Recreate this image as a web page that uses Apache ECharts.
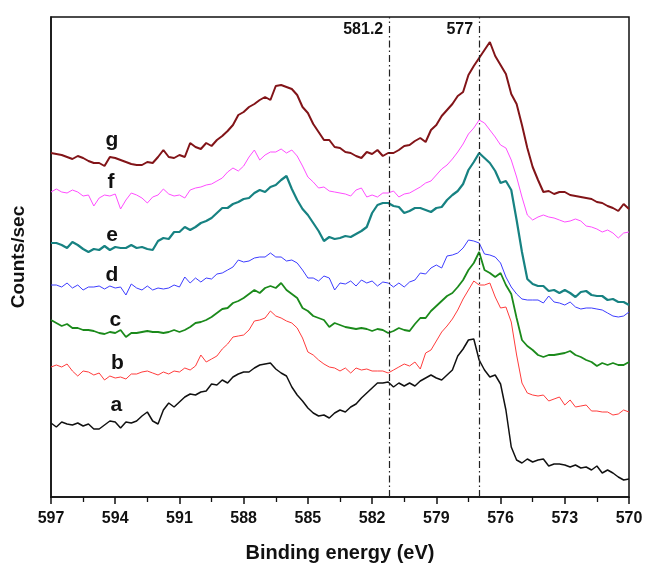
<!DOCTYPE html>
<html>
<head>
<meta charset="utf-8">
<script src="https://cdn.jsdelivr.net/npm/echarts@6/dist/echarts.min.js"></script>
<style>
  html, body { margin: 0; padding: 0; background: #fff; }
  #chart { width: 651px; height: 564px; }
</style>
</head>
<body>
<div id="chart"></div>
<script>
// binding energy grid, 597 -> 570 eV in 0.25 eV steps (109 points)
const energies = [];
for (let i = 0; i <= 108; i++) energies.push(597 - i * 0.25);

// intensities (arbitrary units, stacked offsets included)
const spectrumA = [74,70,75,73, 72,74,71,73, 68,68,72,76, 75,69,75,74, 76,81,85,76,
  73,87,94,90, 95,100,103,102, 105,106,113,112, 117,114,120,123, 125,125,129,132,
  133,134,128,124, 121,110,102,96, 89,84,81,82, 79,84,87,85, 90,93,99,104,
  109,114,114,115, 110,114,111,114, 111,116,119,122, 119,117,122,127, 141,148,157,158,
  137,127,120,122, 113,87,50,37, 34,38,35,37, 38,31,33,33, 32,30,32,29,
  30,27,31,24, 27,24,20,17, 18];
const spectrumB = [130,132,130,133, 126,121,126,125, 122,124,117,121, 119,120,118,123, 123,125,126,124,
  122,125,123,126, 125,129,127,131, 142,135,138,141, 148,153,160,161, 162,167,176,177,
  179,186,181,179, 176,174,169,159, 145,142,137,133, 130,129,126,129, 124,129,127,128,
  126,126,126,124, 127,130,133,131, 135,128,144,147, 156,165,171,178, 187,198,207,216,
  212,212,214,200, 189,190,175,142, 114,104,102,101, 102,96,98,100, 92,97,90,91,
  92,86,86,85, 85,82,83,87, 85];
const spectrumC = [177,174,171,173, 169,169,167,167, 166,164,163,165, 164,167,160,164, 164,165,166,165,
  165,164,165,167, 165,167,170,174, 175,177,180,184, 188,189,194,196, 199,203,207,204,
  209,211,209,214, 207,203,199,189, 186,181,179,177, 170,174,172,170, 169,168,169,168,
  166,168,167,164, 166,169,167,166, 173,179,179,186, 191,196,201,204, 210,217,227,234,
  245,227,224,220, 224,212,203,179, 157,151,147,142, 140,142,142,143, 144,146,142,140,
  137,135,131,134, 132,134,132,132, 135];
const spectrumD = [212,212,210,214, 209,212,207,210, 210,211,208,211, 209,210,202,213, 209,207,211,207,
  209,208,209,212, 210,220,214,219, 215,219,218,223, 224,227,230,237, 235,236,239,240,
  240,244,240,240, 236,237,234,227, 219,219,216,221, 219,207,214,213, 216,211,217,214,
  216,211,215,214, 210,214,210,215, 217,224,223,229, 232,229,241,242, 244,249,257,256,
  254,243,242,240, 234,220,210,203, 198,197,197,197, 194,201,195,194, 192,195,190,188,
  189,189,188,187, 184,181,180,181, 185];
const spectrumE = [254,254,252,249, 255,252,248,245, 248,247,251,247, 250,249,249,252, 249,250,248,247,
  256,259,258,265, 265,270,267,270, 274,276,279,284, 289,289,293,295, 298,299,304,307,
  305,310,312,317, 321,308,297,288, 282,274,266,256, 260,258,259,261, 260,263,266,270,
  284,292,294,294, 291,290,284,286, 289,289,287,285, 289,290,297,302, 306,313,327,335,
  344,339,334,326, 314,316,307,277, 245,218,213,211, 211,206,207,204, 207,204,200,205,
  206,202,201,201, 197,198,195,195, 192];
const spectrumF = [305,308,305,304, 307,305,301,302, 291,299,302,301, 303,288,297,304, 302,299,294,300,
  302,308,303,301, 302,299,307,309, 310,312,313,316, 319,325,329,326, 331,340,347,337,
  342,345,345,348, 344,347,341,331, 320,315,309,310, 306,305,304,303, 301,307,309,300,
  302,300,304,304, 306,300,303,304, 307,310,314,316, 322,328,332,338, 345,353,363,369,
  377,374,367,360, 352,349,337,320, 300,282,277,280, 282,280,279,277, 275,276,278,276,
  271,270,268,265, 267,264,259,264, 265];
const spectrumG = [344,343,342,340, 338,341,339,336, 334,334,331,340, 339,337,335,333, 332,332,335,334,
  340,347,340,339, 342,340,354,350, 348,354,351,357, 361,366,372,382, 385,390,393,397,
  400,397,411,412, 410,408,402,390, 384,373,365,357, 357,350,349,345, 344,341,339,345,
  343,347,341,344, 344,347,351,352, 356,359,355,367, 372,381,387,393, 401,405,422,431,
  439,447,455,441, 432,423,403,393, 372,349,330,317, 305,306,303,305, 305,302,301,300,
  299,298,295,294, 291,289,286,293, 288];

const curveNames = ['a', 'b', 'c', 'd', 'e', 'f', 'g'];
const curveData = [spectrumA, spectrumB, spectrumC, spectrumD, spectrumE, spectrumF, spectrumG];
const curveColors = ['#111111', '#ff3c3c', '#1b8a1b', '#3c3cff', '#178282', '#ff4dff', '#821418'];
const curveWidths = [1.5, 1, 1.8, 1, 2.2, 1, 2];
// where the letters sit (energy, intensity)
const labelEnergy = [593.95, 593.9, 594.0, 594.15, 594.15, 594.2, 594.15];
const labelLevel = [92, 134, 177, 222, 262, 315, 357];

// reference positions marked with dash-dot lines
const refLines = [581.2, 577];
const refLabels = ['581.2', '577'];
const refLabelLevel = 467;

var chart = echarts.init(document.getElementById('chart'));

var series = curveNames.map((name, k) => ({
  name: name,
  type: 'line',
  data: energies.map((e, i) => [e, curveData[k][i]]),
  showSymbol: false,
  symbol: 'none',
  silent: true,
  z: 3,
  lineStyle: { color: curveColors[k], width: curveWidths[k] },
  markPoint: {
    symbol: 'circle', symbolSize: 0, silent: true,
    label: { show: true, position: 'inside', color: '#111', fontSize: 21, fontWeight: 'bold',
      fontFamily: 'Liberation Sans, Arial', formatter: name },
    data: [{ coord: [labelEnergy[k], labelLevel[k]] }]
  }
}));

series.push({
  type: 'line',
  data: [],
  silent: true,
  markLine: {
    symbol: ['none', 'none'],
    silent: true,
    label: { show: false },
    lineStyle: { color: '#222', width: 1.2, type: [7, 3, 1.5, 3] },
    data: refLines.map(x => ({ xAxis: x }))
  },
  markPoint: {
    symbol: 'circle', symbolSize: 0, silent: true,
    label: { show: true, position: 'left', distance: 6, color: '#111', fontSize: 16, fontWeight: 'bold',
      fontFamily: 'Liberation Sans, Arial' },
    data: refLines.map((x, i) => ({ coord: [x, refLabelLevel], label: { formatter: refLabels[i] } }))
  }
});

chart.setOption({
  animation: false,
  backgroundColor: '#fff',
  grid: { left: 51, right: 22, top: 17, bottom: 67, outerBoundsMode: 'none',
    show: true, borderColor: '#111', borderWidth: 1.5 },
  xAxis: {
    type: 'value', min: 570, max: 597, interval: 3, inverse: true,
    name: 'Binding energy (eV)', nameLocation: 'middle', nameGap: 46,
    nameTextStyle: { fontSize: 20, fontWeight: 'bold', color: '#111', fontFamily: 'Liberation Sans, Arial' },
    axisLine: { lineStyle: { color: '#111', width: 1.5 } },
    axisTick: { show: true, inside: false, length: 7, lineStyle: { color: '#111', width: 1.5 } },
    minorTick: { show: true, splitNumber: 2, length: 5, lineStyle: { color: '#111', width: 1.3 } },
    axisLabel: { fontSize: 16, fontWeight: 'bold', color: '#111', margin: 14, fontFamily: 'Liberation Sans, Arial' },
    splitLine: { show: false }
  },
  yAxis: {
    type: 'value', min: 0, max: 480,
    name: 'Counts/sec', nameLocation: 'middle', nameGap: 23, nameRotate: 90,
    nameTextStyle: { fontSize: 19, fontWeight: 'bold', color: '#111', fontFamily: 'Liberation Sans, Arial' },
    axisLine: { show: true, lineStyle: { color: '#111', width: 1.5 } },
    axisTick: { show: false },
    axisLabel: { show: false },
    splitLine: { show: false }
  },
  series: series
});
</script>
</body>
</html>
